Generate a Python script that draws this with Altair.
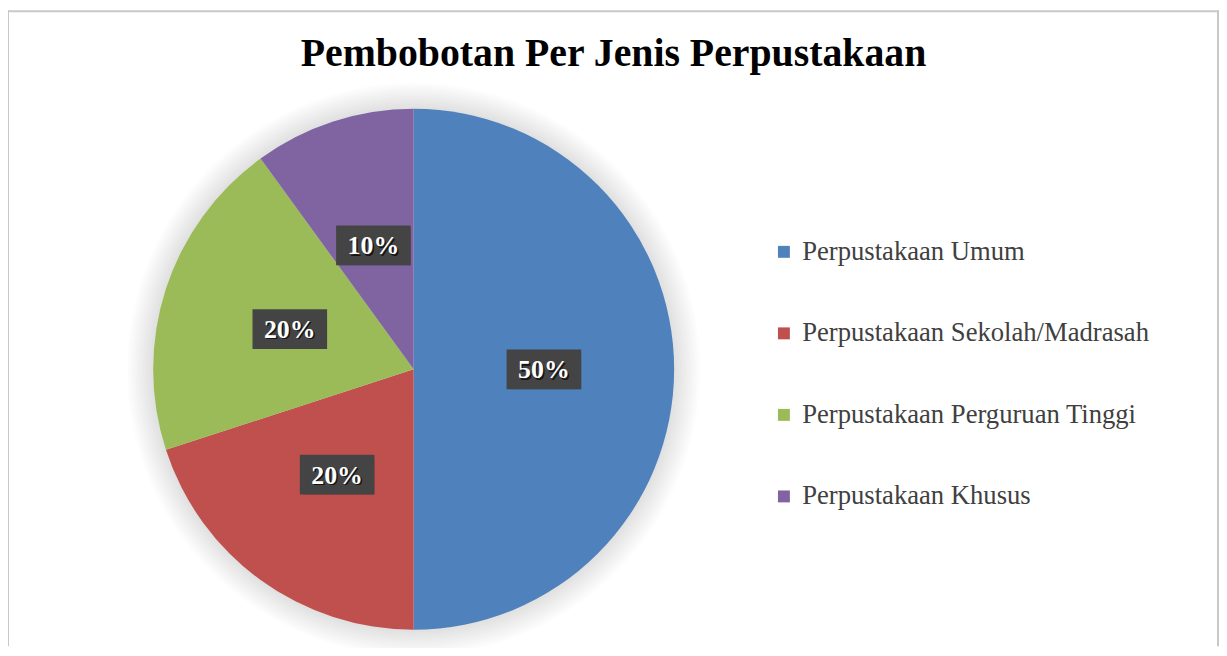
import altair as alt
import pandas as pd

TITLE = "Pembobotan Per Jenis Perpustakaan"
CATEGORIES = [
    "Perpustakaan Umum",
    "Perpustakaan Sekolah/Madrasah",
    "Perpustakaan Perguruan Tinggi",
    "Perpustakaan Khusus",
]
VALUES = [50, 20, 20, 10]
LABELS = ["50%", "20%", "20%", "10%"]
COLORS = ["#4F81BD", "#C0504D", "#9BBB59", "#8064A2"]

df = pd.DataFrame({
    "kategori": CATEGORIES,
    "nilai": VALUES,
    "label": LABELS,
    "urutan": list(range(len(CATEGORIES))),
})

W, H = 1218, 640
CX, CY, R = 408, 361.5, 262
LR = 131
BW, BH = 75, 40

base = alt.Chart(df)

color = alt.Color(
    "kategori:N",
    scale=alt.Scale(domain=CATEGORIES, range=COLORS),
    sort=CATEGORIES,
    legend=alt.Legend(
        title=None,
        orient="none",
        legendX=767,
        legendY=230,
        labelFont="Liberation Serif",
        labelFontSize=26.8,
        labelColor="#404040",
        labelLimit=600,
        labelOffset=5,
        symbolType="square",
        symbolSize=144,
        symbolStrokeWidth=0,
        rowPadding=54.0,
        padding=0,
    ),
)

# soft shadow around the pie
shadows = []
for k in range(1, 11):
    shadows.append(
        base.transform_aggregate(total="sum(nilai)")
        .mark_arc(radius=R + 2.6 * k, color="black", opacity=0.011, stroke=None)
        .encode(theta=alt.Theta("total:Q", stack=True), x=alt.value(CX), y=alt.value(CY))
    )

pie = base.mark_arc(radius=R, stroke=None).encode(
    theta=alt.Theta("nilai:Q", stack=True),
    order=alt.Order("urutan:Q"),
    color=color,
    x=alt.value(CX),
    y=alt.value(CY),
)

lab = (
    base.transform_window(cum="sum(nilai)", sort=[alt.SortField("urutan")], frame=[None, 0])
    .transform_joinaggregate(total="sum(nilai)")
    .transform_calculate(
        ang="(datum.cum - datum.nilai/2)/datum.total*2*PI",
    )
    .transform_calculate(
        lx=f"{CX} + {LR}*sin(datum.ang)",
        ly=f"{CY} - {LR}*cos(datum.ang)",
    )
    .transform_calculate(
        bx1=f"datum.lx - {BW / 2}",
        bx2=f"datum.lx + {BW / 2}",
        by1=f"datum.ly - {BH / 2}",
        by2=f"datum.ly + {BH / 2}",
    )
)

box_shadow = lab.mark_rect(color="black", opacity=0.3).encode(
    x=alt.X("bx1:Q", scale=None, axis=None),
    x2="bx2:Q",
    y=alt.Y("by1:Q", scale=None, axis=None),
    y2="by2:Q",
    xOffset=alt.value(4),
    yOffset=alt.value(4),
)

box = lab.mark_rect(color="#444444").encode(
    x=alt.X("bx1:Q", scale=None, axis=None),
    x2="bx2:Q",
    y=alt.Y("by1:Q", scale=None, axis=None),
    y2="by2:Q",
)

text_shadow = lab.mark_text(
    font="Liberation Serif", fontWeight="bold", fontSize=26, color="black",
    align="center", baseline="middle", dx=1.5, dy=2.5, opacity=0.7,
).encode(
    x=alt.X("lx:Q", scale=None, axis=None),
    y=alt.Y("ly:Q", scale=None, axis=None),
    text="label:N",
)

text = lab.mark_text(
    font="Liberation Serif", fontWeight="bold", fontSize=26, color="white",
    align="center", baseline="middle", dy=1,
).encode(
    x=alt.X("lx:Q", scale=None, axis=None),
    y=alt.Y("ly:Q", scale=None, axis=None),
    text="label:N",
)

title = alt.Chart(pd.DataFrame({"t": [TITLE]})).mark_text(
    font="Liberation Serif", fontWeight="bold", fontSize=40, color="black",
    align="center", baseline="middle",
).encode(x=alt.value(W / 2), y=alt.value(44), text="t:N")

frame_df = pd.DataFrame({"f": [0]})
border_top = alt.Chart(frame_df).mark_rule(color="#c8c8c8", strokeWidth=2).encode(
    x=alt.value(0), x2=alt.value(W), y=alt.value(1.5), y2=alt.value(1.5))
border_left = alt.Chart(frame_df).mark_rule(color="#c8c8c8", strokeWidth=2).encode(
    x=alt.value(0), y=alt.value(0.5), y2=alt.value(H))
border_right = alt.Chart(frame_df).mark_rule(color="#c8c8c8", strokeWidth=2).encode(
    x=alt.value(W - 1), y=alt.value(0.5), y2=alt.value(H))

chart = alt.layer(
    *shadows, pie, box_shadow, box, text_shadow, text, title,
    border_top, border_left, border_right,
).properties(
    width=W, height=H, padding=0, autosize=alt.AutoSizeParams(type="none"),
    background="white",
).configure_view(stroke=None)

chart.save("out.html", embed_options={"renderer": "svg", "actions": False})
